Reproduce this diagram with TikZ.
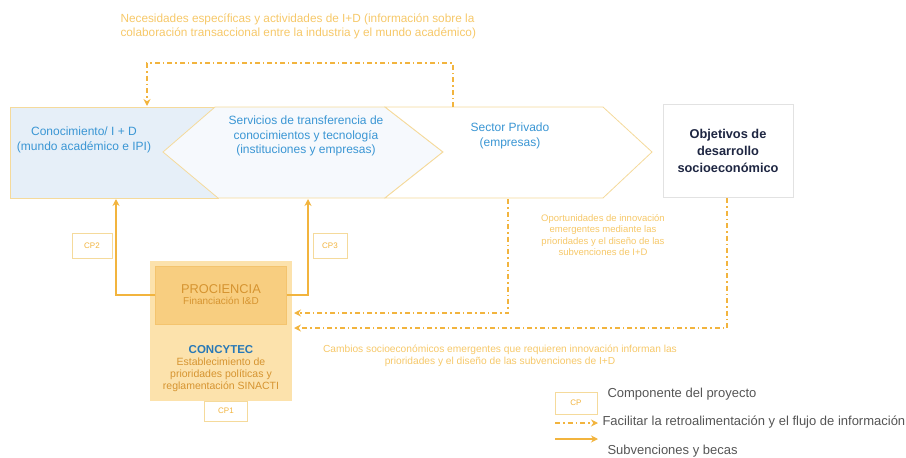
\documentclass[tikz,border=0pt]{standalone}
\usepackage{fontspec}
\setmainfont{Liberation Sans}
\usetikzlibrary{arrows.meta}

\definecolor{lineor}{RGB}{242,180,62}
\definecolor{annot}{RGB}{246,200,105}
\definecolor{bluetxt}{RGB}{58,150,212}
\definecolor{navy}{RGB}{30,38,66}
\definecolor{bandline}{RGB}{245,218,155}
\definecolor{bluefill}{RGB}{230,239,248}
\definecolor{hexfill}{RGB}{246,249,253}
\definecolor{concyfill}{RGB}{252,226,172}
\definecolor{procfill}{RGB}{248,206,128}
\definecolor{proctxt}{RGB}{214,148,48}
\definecolor{concytxt}{RGB}{40,120,182}
\definecolor{legtxt}{RGB}{85,85,85}

\tikzset{
  subv/.style={draw=lineor, line width=1.6pt, -{Stealth[length=7pt,width=7pt]}},
  feed/.style={draw=lineor, line width=1.5pt, dash pattern=on 5pt off 3pt on 1.5pt off 3pt,
    -{Stealth[length=7pt,width=7pt]}},
  cpbox/.style={draw=bandline, line width=0.8pt, fill=white, text=lineor,
    font=\fontsize{8}{9}\selectfont, minimum height=22, inner sep=2pt},
  bandtxt/.style={text=bluetxt, align=center, font=\fontsize{12}{14.5}\selectfont},
  notetxt/.style={text=annot, font=\fontsize{9.5}{11.5}\selectfont},
  legend/.style={text=legtxt, anchor=west, font=\fontsize{13}{15}\selectfont},
}

\begin{document}
\begin{tikzpicture}[x=1pt, y=-1pt]
  \useasboundingbox (0,0) rectangle (906,458);

  % band of actors
  \draw[bandline, line width=0.8pt, fill=bluefill] (10,107) rectangle (218,198);
  \draw[bandline, line width=0.8pt, fill=hexfill]
    (215,107) -- (385,107) -- (443,152) -- (385,198) -- (218,198) -- (163,152) -- cycle;
  \draw[bandline, line width=0.8pt, fill=white]
    (385,107) -- (603,107) -- (652,152) -- (603,198) -- (385,198) -- (443,152) -- cycle;

  \node[bandtxt] (conoc) at (84,140) {Conocimiento/ I + D\\(mundo académico e IPI)};
  \node[bandtxt] (servicios) at (306,136) {Servicios de transferencia de\\conocimientos y tecnología\\(instituciones y empresas)};
  \node[bandtxt] (sector) at (510,136) {Sector Privado\\(empresas)};
  \node[draw={rgb,255:red,226;green,226;blue,226}, line width=0.8pt, fill=white,
    minimum width=130, minimum height=93, text=navy, align=center,
    font=\bfseries\fontsize{12.8}{17}\selectfont] (objetivos) at (728,151)
    {Objetivos de\\desarrollo\\socioeconómico};

  % CONCYTEC and PROCIENCIA
  \node[fill=concyfill, minimum width=142, minimum height=140] (concytec) at (221,331) {};
  \node[fill=procfill, draw={rgb,255:red,244;green,196;blue,110}, line width=0.4pt,
    minimum width=131, minimum height=58, align=center, text=proctxt] (prociencia) at (221,295)
    {{\fontsize{12.8}{14}\selectfont PROCIENCIA}\\[-1pt]{\fontsize{10}{11}\selectfont Financiación I\&D}};
  \node[align=center, text=proctxt, font=\fontsize{10.5}{12}\selectfont] (concylabel) at (221,369)
    {{\color{concytxt}\bfseries\fontsize{11.5}{15}\selectfont CONCYTEC}\\Establecimiento de\\prioridades políticas y\\reglamentación SINACTI};
  \node[cpbox, minimum width=43, minimum height=20] (cp1) at (226,411) {CP1};

  % subvenciones
  \coordinate (conocB) at (116,199);
  \coordinate (servB) at (308,199);
  \draw[subv] (prociencia.west) -| (conocB);
  \draw[subv] (prociencia.east) -| (servB);
  \node[cpbox, minimum width=40, minimum height=25] (cp2) at (92,246) {CP2};
  \node[cpbox, minimum width=34, minimum height=25] (cp3) at (330,246) {CP3};

  % retroalimentacion
  \coordinate (sectorT) at (453,107);
  \coordinate (conocT) at (147,106);
  \draw[feed] (sectorT) -- ++(0,-44) -| (conocT);
  \node[notetxt, anchor=west, align=left, font=\fontsize{11.8}{14}\selectfont] (necesidades) at (117,26)
    {Necesidades específicas y actividades de I+D (información sobre la\\colaboración transaccional entre la industria y el mundo académico)};

  \coordinate (sectorB) at (508,199);
  \coordinate (objB) at (727,198);
  \coordinate (in1) at (294,313);
  \coordinate (in2) at (294,328);
  \draw[feed] (sectorB) |- (in1);
  \draw[feed] (objB) |- (in2);
  \node[notetxt, align=center] (oportunidades) at (603,235)
    {Oportunidades de innovación\\emergentes mediante las\\prioridades y el diseño de las\\subvenciones de I+D};
  \node[notetxt, align=center, font=\fontsize{10.2}{12}\selectfont] (cambios) at (500,356)
    {Cambios socioeconómicos emergentes que requieren innovación informan las\\prioridades y el diseño de las subvenciones de I+D};

  % leyenda
  \node[cpbox, minimum width=42, minimum height=22] (cpleg) at (576,403) {CP};
  \node[legend] (legcp) at (604,394) {Componente del proyecto};
  \coordinate (fa) at (555,423);
  \coordinate (fb) at (598,423);
  \draw[feed] (fa) -- (fb);
  \node[legend] (legfeed) at (599,422) {Facilitar la retroalimentación y el flujo de información};
  \coordinate (sa) at (555,439);
  \coordinate (sb) at (598,439);
  \draw[subv] (sa) -- (sb);
  \node[legend] (legsubv) at (604,451) {Subvenciones y becas};
\end{tikzpicture}
\end{document}
